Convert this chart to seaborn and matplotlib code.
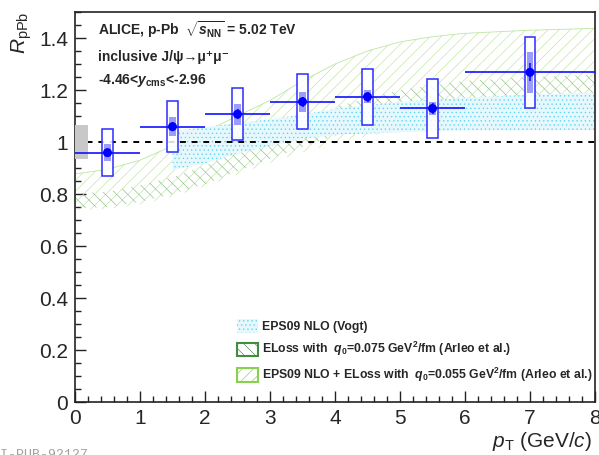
import numpy as np
import pandas as pd
import matplotlib
matplotlib.use("Agg")
import matplotlib.pyplot as plt
import seaborn as sns
from matplotlib.patches import Rectangle, Patch
from matplotlib.ticker import MultipleLocator, FuncFormatter

# ---------------- data ----------------
pt = [0.5, 1.5, 2.5, 3.5, 4.5, 5.5, 7.0]
pt_lo = [0.0, 1.0, 2.0, 3.0, 4.0, 5.0, 6.0]
pt_hi = [1.0, 2.0, 3.0, 4.0, 5.0, 6.0, 8.0]
rppb = [0.959, 1.059, 1.107, 1.155, 1.174, 1.129, 1.268]
stat = [0.015, 0.018, 0.02, 0.02, 0.02, 0.02, 0.035]
syst_uncorr = [0.091, 0.098, 0.100, 0.105, 0.107, 0.115, 0.137]
syst_corr = [0.032, 0.037, 0.040, 0.039, 0.025, 0.026, 0.078]
global_unc = 0.065

# EPS09 NLO (Vogt)
eps_x = [1.5, 2.0, 2.5, 3.0, 3.5, 4.0, 5.0, 6.0, 7.0, 8.0]
eps_hi = [1.040, 1.058, 1.072, 1.088, 1.105, 1.128, 1.155, 1.170, 1.182, 1.190]
eps_lo = [0.892, 0.918, 0.955, 0.985, 1.012, 1.027, 1.038, 1.045, 1.046, 1.046]

# ELoss q0=0.075 (Arleo)
el_x = [0.0, 0.5, 1.0, 1.5, 2.0, 2.5, 3.0, 3.5, 4.0, 5.0, 6.0, 7.0, 8.0]
el_hi = [0.803, 0.808, 0.833, 0.865, 0.908, 0.965, 1.020, 1.080, 1.135, 1.200, 1.235, 1.250, 1.258]
el_lo = [0.746, 0.750, 0.770, 0.800, 0.838, 0.887, 0.935, 0.980, 1.025, 1.070, 1.095, 1.105, 1.110]

# EPS09 NLO + ELoss q0=0.055 (Arleo)
ee_x = [0.0, 0.5, 1.0, 1.5, 2.0, 2.5, 3.0, 3.5, 4.0, 4.5, 5.0, 5.5, 6.0, 7.0, 8.0]
ee_hi = [0.877, 0.895, 0.930, 0.985, 1.040, 1.100, 1.160, 1.235, 1.300, 1.350, 1.385, 1.405, 1.418, 1.430, 1.437]
ee_lo = [0.738, 0.742, 0.760, 0.790, 0.830, 0.875, 0.920, 0.960, 0.995, 1.022, 1.045, 1.062, 1.075, 1.095, 1.100]

legend_labels = [
    "EPS09 NLO (Vogt)",
    r"ELoss with  $\mathbfit{q}_{\mathbf{0}}$=0.075 GeV$^{\mathbf{2}}$/fm (Arleo et al.)",
    r"EPS09 NLO + ELoss with  $\mathbfit{q}_{\mathbf{0}}$=0.055 GeV$^{\mathbf{2}}$/fm (Arleo et al.)",
]
xticks = [0, 1, 2, 3, 4, 5, 6, 7, 8]
yticks = [0, 0.2, 0.4, 0.6, 0.8, 1.0, 1.2, 1.4]

# ---------------- style ----------------
sns.set_theme(style="ticks")
plt.rcParams["font.family"] = ["Liberation Sans", "DejaVu Sans"]
plt.rcParams["mathtext.fontset"] = "custom"
plt.rcParams["mathtext.rm"] = "Liberation Sans"
plt.rcParams["mathtext.it"] = "Liberation Sans:italic"
plt.rcParams["mathtext.bf"] = "Liberation Sans:bold"
plt.rcParams["mathtext.bfit"] = "Liberation Sans:italic:bold"
plt.rcParams["hatch.linewidth"] = 0.45

W, H = 599, 455
fig = plt.figure(figsize=(W / 100, H / 100), dpi=100)
L, R, B, T = 75, 595, 402, 12
ax = fig.add_axes([L / W, 1 - B / H, (R - L) / W, (B - T) / H])
ax.set_xlim(0, 8)
ax.set_ylim(0, 1.5)

cyan = "#5ad4ee"
dkgreen = "#86bb86"
ltgreen = "#bde6a0"

# theory bands
ax.fill_between(ee_x, ee_lo, ee_hi, facecolor="none", edgecolor=ltgreen,
                hatch="///", linewidth=0, zorder=1)
ax.plot(ee_x, ee_hi, color=ltgreen, lw=0.6, zorder=1)
ax.fill_between(el_x, el_lo, el_hi, facecolor="none", edgecolor=dkgreen,
                hatch="\\\\\\", linewidth=0, zorder=1.1)
ax.fill_between(eps_x, eps_lo, eps_hi, facecolor="#e6f8fd", edgecolor=cyan,
                hatch="....", linewidth=0, zorder=1.2)

# line at unity
ax.axhline(1.0, color="black", ls=(0, (3, 3)), lw=1.4, zorder=2)
# global uncertainty
ax.add_patch(Rectangle((0, 1 - global_unc), 0.2, 2 * global_unc,
                       facecolor="#c8c8c8", edgecolor="none", zorder=3))

# systematic boxes
bw, cw = 0.16, 0.10
for x, y, su, sc in zip(pt, rppb, syst_uncorr, syst_corr):
    ax.add_patch(Rectangle((x - bw / 2, y - su), bw, 2 * su, facecolor="white",
                           alpha=0.85, edgecolor="none", zorder=3))
    ax.add_patch(Rectangle((x - bw / 2, y - su), bw, 2 * su, facecolor="none",
                           edgecolor="#2b2bff", lw=1.1, zorder=4))
    ax.add_patch(Rectangle((x - cw / 2, y - sc), cw, 2 * sc, facecolor="#9c9cff",
                           edgecolor="none", zorder=4))

df = pd.DataFrame({"pt": pt, "rppb": rppb})
xerr = [np.array(pt) - np.array(pt_lo), np.array(pt_hi) - np.array(pt)]
ax.errorbar(pt, rppb, xerr=xerr, yerr=stat, fmt="none", ecolor="#1010ff",
            elinewidth=1.2, capsize=0, zorder=5)
sns.scatterplot(data=df, x="pt", y="rppb", ax=ax, color="#0000ff", s=42,
                edgecolor="none", zorder=6, legend=False)

# axes cosmetics
ax.set_xticks(xticks)
ax.set_yticks(yticks)
ax.xaxis.set_minor_locator(MultipleLocator(0.2))
ax.yaxis.set_minor_locator(MultipleLocator(0.05))
fmt = FuncFormatter(lambda v, p: "%g" % v)
ax.xaxis.set_major_formatter(fmt)
ax.yaxis.set_major_formatter(fmt)
ax.tick_params(which="both", direction="in", top=False, right=False,
               labelsize=15, color="#222222", width=1.0, pad=5)
ax.tick_params(which="major", length=8)
ax.tick_params(which="minor", length=4.2)
for s in ax.spines.values():
    s.set_visible(True)
    s.set_linewidth(1.2)
    s.set_color("#222222")

ax.set_xlabel(r"$p_{\rm T}$ (GeV/$c$)", fontsize=15, loc="right")
ax.xaxis.set_label_coords(0.995, -0.072)
ax.set_ylabel(r"$R_{\rm pPb}$", fontsize=15, loc="top")
ax.yaxis.set_label_coords(-0.078, 1.0)

# header texts
fig.text(98 / W, 1 - 35 / H,
         r"ALICE, p-Pb  $\sqrt{\mathbfit{s}_{\mathbf{NN}}}$ = 5.02 TeV",
         fontsize=10, fontweight="bold", va="baseline")
fig.text(98 / W, 1 - 61 / H, "inclusive J/ψ→μ⁺μ⁻",
         fontsize=10, fontweight="bold", va="baseline")
fig.text(98 / W, 1 - 84 / H, r"-4.46<$\mathbfit{y}_{\mathbf{cms}}$<-2.96",
         fontsize=10, fontweight="bold", va="baseline")

# legend
handles = [
    Patch(facecolor="#e6f8fd", edgecolor=cyan, hatch="....", lw=0),
    Patch(facecolor="white", edgecolor="#3f8f3f", hatch="\\\\\\", lw=1.5),
    Patch(facecolor="white", edgecolor="#88d050", hatch="///", lw=1.5),
]
leg = fig.legend(handles, legend_labels, loc="upper left",
                 bbox_to_anchor=(237 / W, 1 - 319 / H), frameon=False,
                 prop={"size": 8.8, "weight": "bold"}, handlelength=1.75,
                 handleheight=1.35, handletextpad=0.3, labelspacing=0.6,
                 borderpad=0, borderaxespad=0)

fig.text(88 / W, 1 - 449 / H, "ALI-PUB-92127", ha="right", va="top",
         fontsize=9.5, family="Liberation Mono", color="#a0a0a0")

fig.savefig("out.png", dpi=100)
